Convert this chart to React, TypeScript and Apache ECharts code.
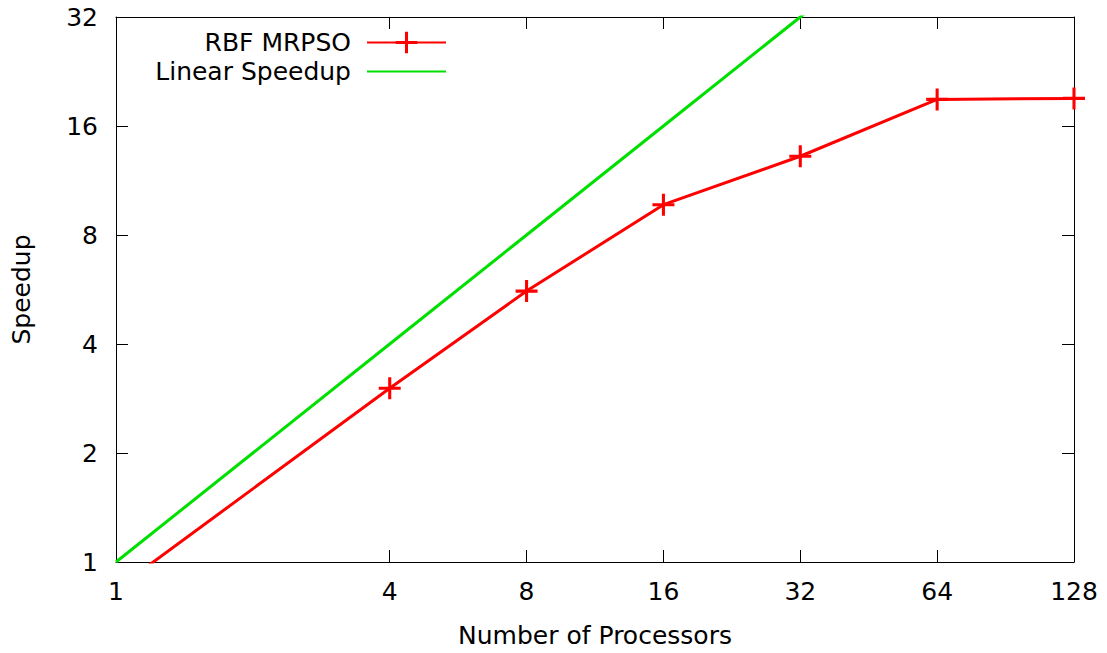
import React, { useEffect, useRef } from "react";
import * as echarts from "echarts";

const processors = [1, 4, 8, 16, 32, 64, 128];
const rbfSpeedup = [0.84, 3.02, 5.6, 9.7, 13.2, 18.95, 19.07];
const linearProcessors = [1, 2, 4, 8, 16, 32, 64, 128];
const linearSpeedup = [1, 2, 4, 8, 16, 32, 64, 128];
const xTickLabels = [1, 4, 8, 16, 32, 64, 128];
const yTickLabels = [1, 2, 4, 8, 16, 32];

const FONT = "DejaVu Sans";
const FS = 25;
const RED = "#ff0000";
const GREEN = "#00e000";
const PLUS =
  "path://M-1,-0.14 L-0.14,-0.14 L-0.14,-1 L0.14,-1 L0.14,-0.14 L1,-0.14 L1,0.14 L0.14,0.14 L0.14,1 L-0.14,1 L-0.14,0.14 L-1,0.14 Z";

const lg = (v: number) => Math.log2(v);
const fmt = (v: number) => String(Math.round(Math.pow(2, v)));

function axisBase(ticks: number[], showLabel: boolean) {
  return {
    type: "value" as const,
    axisLine: { show: true, onZero: false, lineStyle: { color: "#000", width: 1 } },
    axisTick: {
      show: true,
      inside: true,
      length: 12,
      customValues: ticks,
      lineStyle: { color: "#000", width: 1 },
    },
    axisLabel: {
      show: showLabel,
      customValues: ticks,
      formatter: fmt,
      fontFamily: FONT,
      fontSize: FS,
      color: "#000",
    },
    splitLine: { show: false },
  };
}

function legendFor(name: string, top: number, itemStyle: any) {
  return {
    data: [name],
    right: 1107 - 447,
    top,
    orient: "vertical",
    align: "right",
    padding: 0,
    itemWidth: 79,
    itemHeight: 27,
    itemStyle,
    textStyle: { fontFamily: FONT, fontSize: FS, color: "#000", padding: [0, 11, 0, 0] },
  };
}

export default function App() {
  const ref = useRef<HTMLDivElement>(null);
  useEffect(() => {
    if (!ref.current) return;
    const chart = echarts.init(ref.current, undefined, { renderer: "svg" });
    const xt = xTickLabels.map(lg);
    const yt = yTickLabels.map(lg);
    const xb = axisBase(xt, true);
    const yb = axisBase(yt, true);
    chart.setOption({
      animation: false,
      backgroundColor: "#fff",
      textStyle: { fontFamily: FONT },
      grid: { left: 116, right: 33, top: 17, bottom: 87, containLabel: false },
      legend: [
        legendFor("RBF MRPSO", 30, { color: RED }),
        legendFor("Linear Speedup", 59, { opacity: 0 }),
      ],
      xAxis: [
        {
          ...xb,
          position: "bottom",
          min: 0,
          max: 7,
          axisLabel: { ...xb.axisLabel, margin: 17 },
          name: "Number of Processors",
          nameLocation: "middle",
          nameGap: 61,
          nameTextStyle: { fontFamily: FONT, fontSize: FS, color: "#000" },
        },
        { ...axisBase(xt, false), position: "top", min: 0, max: 7 },
      ],
      yAxis: [
        {
          ...yb,
          position: "left",
          min: 0,
          max: 5,
          axisLabel: { ...yb.axisLabel, margin: 18 },
          name: "Speedup",
          nameLocation: "middle",
          nameGap: 82,
          nameRotate: 90,
          nameTextStyle: { fontFamily: FONT, fontSize: FS, color: "#000" },
        },
        { ...axisBase(yt, false), position: "right", min: 0, max: 5 },
      ],
      series: [
        {
          name: "RBF MRPSO",
          type: "line",
          clip: true,
          data: processors.map((p, i) => [lg(p), lg(rbfSpeedup[i])]),
          symbol: PLUS,
          symbolSize: 22,
          showAllSymbol: true,
          lineStyle: { color: RED, width: 3 },
          itemStyle: { color: RED },
          z: 3,
        },
        {
          name: "Linear Speedup",
          type: "line",
          clip: true,
          data: linearProcessors.map((p, i) => [lg(p), lg(linearSpeedup[i])]),
          symbol: "none",
          lineStyle: { color: GREEN, width: 3 },
          itemStyle: { color: GREEN },
          z: 2,
        },
      ],
    });
    return () => chart.dispose();
  }, []);
  return (
    <div
      ref={ref}
      style={{ position: "fixed", left: 0, top: 0, width: 1107, height: 653 }}
    />
  );
}
